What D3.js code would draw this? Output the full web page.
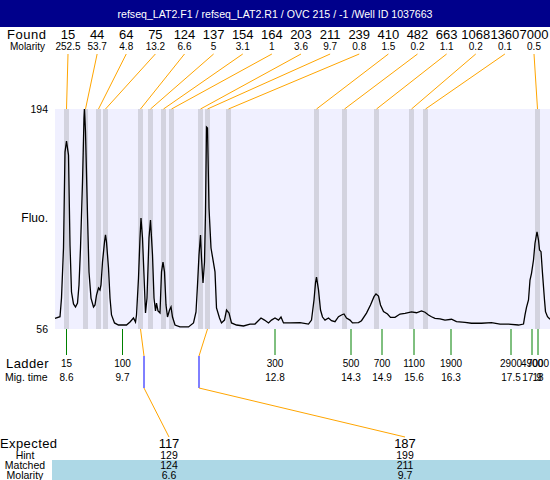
<!DOCTYPE html>
<html><head><meta charset="utf-8">
<script src="https://cdn.jsdelivr.net/npm/d3@7"></script>
<style>body{margin:0;background:#fff}svg{display:block;font-family:"Liberation Sans",Arial,sans-serif}</style>
</head><body><svg id="c" width="550" height="480"></svg>
<script>
const title = "refseq_LAT2.F1 / refseq_LAT2.R1 / OVC 215 / -1 /Well ID 1037663";
const foundSizes = [15,44,64,75,124,137,154,164,203,211,239,410,482,663,1068,1360,7000];
const foundMolarity = [252.5,53.7,4.8,13.2,6.6,5,3.1,1,3.6,9.7,0.8,1.5,0.2,1.1,0.2,0.1,0.5];
const foundTimes = [8.61,8.99,9.25,9.39,10.09,10.29,10.55,10.71,11.29,11.43,11.85,13.61,14.17,14.81,15.51,15.79,18.03];
const ladderSizes = [15,100,300,500,700,1100,1900,2900,4900,7000];
const ladderTimes = [8.61,9.73,12.78,14.30,14.92,15.56,16.30,17.50,17.92,18.04];
const expectedSizes = [117,187];
const hintSizes = [129,199];
const hintTimes = [10.16,11.26];
const matchedSizes = [124,211];
const matchedMolarity = [6.6,9.7];
const fluoTicks = [56,194];
const traceTime = [8.38,8.48,8.51,8.55,8.58,8.61,8.65,8.68,8.71,8.75,8.79,8.83,8.86,8.89,8.93,8.96,8.97,8.99,9.03,9.06,9.10,9.15,9.18,9.21,9.25,9.28,9.30,9.33,9.37,9.39,9.41,9.45,9.48,9.51,9.57,9.65,9.81,9.88,9.95,9.99,10.01,10.05,10.08,10.10,10.13,10.17,10.19,10.22,10.26,10.29,10.33,10.36,10.39,10.41,10.44,10.48,10.51,10.54,10.57,10.60,10.63,10.67,10.70,10.73,10.78,10.88,11.05,11.15,11.20,11.23,11.26,11.29,11.31,11.34,11.37,11.39,11.41,11.43,11.46,11.50,11.53,11.58,11.61,11.67,11.71,11.77,11.81,11.86,11.91,12.01,12.15,12.28,12.38,12.50,12.57,12.65,12.71,12.78,12.85,12.90,12.95,13.08,13.28,13.45,13.51,13.56,13.59,13.61,13.65,13.69,13.73,13.78,13.85,13.91,13.98,14.05,14.11,14.16,14.21,14.28,14.33,14.45,14.51,14.61,14.69,14.76,14.80,14.85,14.89,14.95,15.03,15.09,15.18,15.28,15.38,15.51,15.61,15.71,15.78,15.85,15.91,15.98,16.08,16.18,16.31,16.41,16.58,16.71,16.91,17.11,17.28,17.45,17.65,17.75,17.78,17.81,17.85,17.88,17.91,17.95,17.98,18.02,18.05,18.07,18.10,18.13,18.17,18.19,18.23,18.28];
const traceFluo = [62.7,63.7,75.4,106.8,167.0,173.9,165.1,108.7,79.2,71.7,69.8,72.3,83.6,106.8,148.2,188.4,194.0,179.6,127.5,91.8,75.4,69.8,71.1,77.3,81.7,80.5,83.6,98.0,110.6,115.0,110.6,94.3,75.4,64.8,59.8,58.5,58.5,60.4,62.9,60.4,64.8,88.0,113.1,125.6,113.1,81.7,66.0,75.4,113.1,124.4,102.4,75.4,67.3,72.3,67.3,66.0,91.8,98.0,91.8,71.1,63.5,67.9,69.8,63.5,58.5,57.3,57.3,59.8,66.7,83.6,102.4,115.0,100.5,84.9,98.0,129.4,182.7,182.1,131.9,106.8,101.2,91.8,69.2,62.9,59.8,61.6,67.9,66.0,59.8,58.5,57.9,59.1,59.1,62.9,61.6,59.8,61.6,62.9,61.6,63.5,59.8,59.8,60.0,59.1,61.6,74.2,84.9,88.6,80.5,67.9,63.5,61.6,62.9,61.2,60.6,63.7,64.8,65.4,62.9,61.6,59.8,60.0,61.2,66.0,71.1,76.3,78.0,76.7,71.1,66.9,65.4,63.3,63.3,65.4,65.8,66.7,66.2,67.3,66.5,64.8,63.7,62.7,62.3,61.6,62.1,60.6,60.2,59.6,59.6,60.0,59.1,59.1,58.5,59.1,64.8,69.6,74.2,86.7,90.9,99.3,109.8,117.0,111.8,105.6,104.5,90.9,74.2,66.9,63.7,62.1];

const svg = d3.select("#c");
const W = 550;
const ORANGE = "#FFA500", GREEN = "#008000", BLUE = "#0000FF";

const x = d3.scaleLinear().domain([8.38, 18.28]).range([55, 550]);
const y = d3.scaleLinear().domain([56, 194]).range([329, 109]);
const foundX = d3.scalePoint().domain(d3.range(foundSizes.length)).range([68, 534]);
const colX = d3.scalePoint().domain(d3.range(expectedSizes.length)).range([169, 405]);
const fmt = v => String(+(+v).toFixed(1));

// title bar
svg.append("rect").attr("x",0).attr("y",0).attr("width",W).attr("height",27).attr("fill","#00008B");
svg.append("text").attr("x",275).attr("y",18).attr("text-anchor","middle").attr("fill","#fff")
  .attr("font-size",10.6).text(title);

// plot background & bands
svg.append("rect").attr("x",55).attr("y",109).attr("width",W-55).attr("height",220).attr("fill","#F0F0FF");
svg.append("g").selectAll("rect").data(foundTimes).join("rect")
  .attr("x",d=>x(d)-2.5).attr("y",109).attr("width",5).attr("height",220).attr("fill","#D3D3DF");

// found labels
svg.append("text").attr("x",7).attr("y",38.6).attr("font-size",13).attr("letter-spacing",0.5).text("Found");
svg.append("text").attr("x",10).attr("y",50).attr("font-size",10).text("Molarity");
svg.append("g").selectAll("text").data(foundSizes).join("text")
  .attr("x",(d,i)=>foundX(i)).attr("y",38.6).attr("text-anchor","middle").attr("font-size",13).text(d=>d);
svg.append("g").selectAll("text").data(foundMolarity).join("text")
  .attr("x",(d,i)=>foundX(i)).attr("y",50).attr("text-anchor","middle").attr("font-size",10).text(d=>d);
svg.append("g").selectAll("line").data(foundTimes).join("line")
  .attr("x1",(d,i)=>foundX(i)).attr("y1",54).attr("x2",d=>x(d)).attr("y2",109)
  .attr("stroke",ORANGE).attr("stroke-width",1);

// trace
const pts = traceTime.map((t,i)=>[t, traceFluo[i]]);
svg.append("path").datum(pts)
  .attr("d", d3.line().x(d=>x(d[0])).y(d=>y(d[1])))
  .attr("fill","none").attr("stroke","#000").attr("stroke-width",1.3);

// y labels
svg.append("g").selectAll("text").data(fluoTicks).join("text")
  .attr("x",48).attr("y",d=>y(d)+3.7).attr("text-anchor","end").attr("font-size",10.5).text(d=>d);
svg.append("text").attr("x",48).attr("y",222).attr("text-anchor","end").attr("font-size",12).text("Fluo.");

// ladder
svg.append("g").selectAll("line").data(ladderTimes).join("line")
  .attr("x1",d=>x(d)).attr("x2",d=>x(d)).attr("y1",329).attr("y2",355)
  .attr("stroke",GREEN).attr("stroke-width",1);
svg.append("text").attr("x",6).attr("y",367.5).attr("font-size",13).attr("letter-spacing",0.4).text("Ladder");
svg.append("text").attr("x",5).attr("y",380.7).attr("font-size",10.5).text("Mig. time");
svg.append("g").selectAll("text").data(ladderSizes).join("text")
  .attr("x",(d,i)=>x(ladderTimes[i])).attr("y",366.5).attr("text-anchor","middle").attr("font-size",10).text(d=>d);
svg.append("g").selectAll("text").data(ladderTimes).join("text")
  .attr("x",d=>x(d)).attr("y",380.5).attr("text-anchor","middle").attr("font-size",10).text(d=>fmt(d));

// matched connectors
matchedSizes.forEach((m,j)=>{
  const fi = foundSizes.indexOf(m);
  const hx = x(hintTimes[j]);
  svg.append("line").attr("x1",x(foundTimes[fi])).attr("y1",329).attr("x2",hx).attr("y2",356).attr("stroke",ORANGE);
  svg.append("line").attr("x1",hx).attr("y1",356).attr("x2",hx).attr("y2",388).attr("stroke",BLUE);
  svg.append("line").attr("x1",hx).attr("y1",388).attr("x2",colX(j)).attr("y2",437).attr("stroke",ORANGE);
});

// bottom table
svg.append("rect").attr("x",52).attr("y",460).attr("width",W-52).attr("height",20).attr("fill","#ADD8E6");
svg.append("text").attr("x",0).attr("y",448).attr("font-size",13).attr("letter-spacing",0.4).text("Expected");
const rowLabels = [["Hint",459],["Matched",469],["Molarity",478.5]];
rowLabels.forEach(([t,yy])=>svg.append("text").attr("x",25).attr("y",yy).attr("text-anchor","middle").attr("font-size",10.5).text(t));
const rows = [[expectedSizes,448,13],[hintSizes,459,10.5],[matchedSizes,469,10.5],[matchedMolarity,478.5,10.5]];
rows.forEach(([arr,yy,fs])=>{
  svg.append("g").selectAll("text").data(arr).join("text")
    .attr("x",(d,i)=>colX(i)).attr("y",yy).attr("text-anchor","middle").attr("font-size",fs).text(d=>d);
});
</script></body></html>
